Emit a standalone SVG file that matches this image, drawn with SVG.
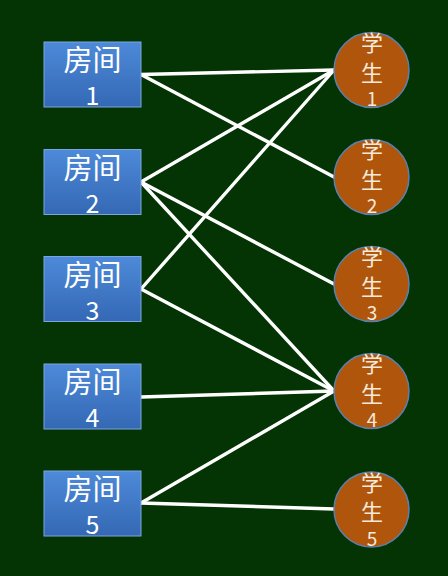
<svg xmlns="http://www.w3.org/2000/svg" width="448" height="576" viewBox="0 0 448 576">
<defs>
<linearGradient id="rg" x1="0" y1="0" x2="0" y2="1">
<stop offset="0" stop-color="#4d8ad9"/>
<stop offset="1" stop-color="#3468b4"/>
</linearGradient>
<style>
.room rect{fill:url(#rg);stroke:#7aa6e0;stroke-width:1}
.stu circle{fill:#b0560c;stroke:#5a80b0;stroke-width:1.5}
.rt{font-family:"Noto Sans CJK SC","Liberation Sans",sans-serif;fill:#ffffff;text-anchor:middle}
.st{font-family:"Noto Sans CJK SC","Liberation Sans",sans-serif;fill:#f6eadb;text-anchor:middle}
#edges line{stroke:#ffffff;stroke-width:3.4;stroke-linecap:round}
</style>
</defs>
<rect x="0" y="0" width="448" height="576" fill="#043404"/>
<g id="edges">
<line x1="141" y1="74.5" x2="334" y2="70"/>
<line x1="141" y1="74.5" x2="334" y2="177"/>
<line x1="141" y1="182" x2="334" y2="70"/>
<line x1="141" y1="182" x2="334" y2="284"/>
<line x1="141" y1="182" x2="334" y2="391"/>
<line x1="141" y1="289" x2="334" y2="70"/>
<line x1="141" y1="289" x2="334" y2="391"/>
<line x1="141" y1="397" x2="334" y2="391"/>
<line x1="141" y1="503" x2="334" y2="391"/>
<line x1="141" y1="503" x2="334" y2="509"/>
</g>
<g id="room1" class="room"><rect x="44" y="42" width="97" height="65"/><text class="rt" x="92.5" y="71" font-size="29">房间</text><text class="rt" x="92.5" y="105" font-size="25">1</text></g>
<g id="room2" class="room"><rect x="44" y="149.5" width="97" height="65"/><text class="rt" x="92.5" y="178.5" font-size="29">房间</text><text class="rt" x="92.5" y="212.5" font-size="25">2</text></g>
<g id="room3" class="room"><rect x="44" y="256.5" width="97" height="65"/><text class="rt" x="92.5" y="285.5" font-size="29">房间</text><text class="rt" x="92.5" y="319.5" font-size="25">3</text></g>
<g id="room4" class="room"><rect x="44" y="364" width="97" height="65"/><text class="rt" x="92.5" y="393" font-size="29">房间</text><text class="rt" x="92.5" y="427" font-size="25">4</text></g>
<g id="room5" class="room"><rect x="44" y="471" width="97" height="65"/><text class="rt" x="92.5" y="500" font-size="29">房间</text><text class="rt" x="92.5" y="534" font-size="25">5</text></g>
<g id="stu1" class="stu"><circle cx="371.5" cy="70" r="37.5"/><text class="st" x="372" y="51" font-size="22">学</text><text class="st" x="372" y="80.5" font-size="22">生</text><text class="st" x="372" y="106" font-size="19">1</text></g>
<g id="stu2" class="stu"><circle cx="371.5" cy="177" r="37.5"/><text class="st" x="372" y="158" font-size="22">学</text><text class="st" x="372" y="187.5" font-size="22">生</text><text class="st" x="372" y="213" font-size="19">2</text></g>
<g id="stu3" class="stu"><circle cx="371.5" cy="284" r="37.5"/><text class="st" x="372" y="265" font-size="22">学</text><text class="st" x="372" y="294.5" font-size="22">生</text><text class="st" x="372" y="320" font-size="19">3</text></g>
<g id="stu4" class="stu"><circle cx="371.5" cy="391" r="37.5"/><text class="st" x="372" y="372" font-size="22">学</text><text class="st" x="372" y="401.5" font-size="22">生</text><text class="st" x="372" y="427" font-size="19">4</text></g>
<g id="stu5" class="stu"><circle cx="371.5" cy="509.5" r="37.5"/><text class="st" x="372" y="490.5" font-size="22">学</text><text class="st" x="372" y="520" font-size="22">生</text><text class="st" x="372" y="545.5" font-size="19">5</text></g>
</svg>
